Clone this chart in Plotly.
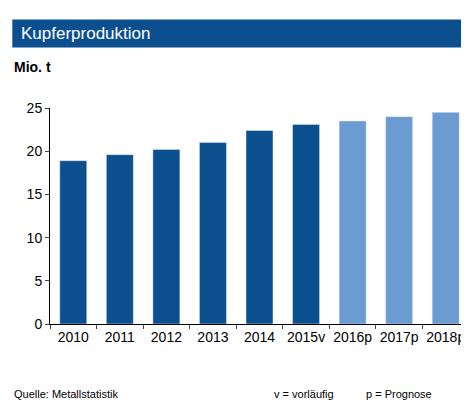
import plotly.graph_objects as go

# Kupferproduktion in Mio. t
years = ["2010", "2011", "2012", "2013", "2014", "2015v", "2016p", "2017p", "2018p"]
values = [18.9, 19.6, 20.2, 21.0, 22.4, 23.1, 23.5, 24.0, 24.5]
colors = ["#0b4f8f"] * 6 + ["#6a9bd1"] * 3

fig = go.Figure(go.Bar(x=years, y=values, marker_color=colors, width=0.58))

fig.update_layout(
    width=469, height=420,
    margin=dict(l=42, r=8, t=100, b=104),
    plot_bgcolor="white", paper_bgcolor="white",
    font=dict(family="Liberation Sans, Arial", size=14, color="black"),
    showlegend=False,
    shapes=[dict(type="rect", xref="paper", yref="paper",
                 x0=-0.09, x1=1.0, y0=1.28, y1=1.41,
                 fillcolor="#0b4f8f", line_width=0)],
    annotations=[
        dict(text="Kupferproduktion", xref="paper", yref="paper", x=-0.075, y=1.345,
             xanchor="left", yanchor="middle", showarrow=False,
             font=dict(size=17, color="white")),
        dict(text="<b>Mio. t</b>", xref="paper", yref="paper", x=-0.09, y=1.19,
             xanchor="left", yanchor="middle", showarrow=False, font=dict(size=14)),
        dict(text="Quelle: Metallstatistik", xref="paper", yref="paper", x=-0.09, y=-0.36,
             xanchor="left", showarrow=False, font=dict(size=11)),
        dict(text="v = vorläufig", xref="paper", yref="paper", x=0.53, y=-0.36,
             xanchor="left", showarrow=False, font=dict(size=11)),
        dict(text="p = Prognose", xref="paper", yref="paper", x=0.75, y=-0.36,
             xanchor="left", showarrow=False, font=dict(size=11)),
    ],
)
fig.update_yaxes(range=[0, 25], dtick=5, showgrid=False, showline=True,
                 linecolor="black", ticks="outside", ticklen=4, zeroline=False)
fig.update_xaxes(showline=True, linecolor="black", ticks="outside", ticklen=4,
                 tickson="boundaries", tickangle=0, automargin=False)

fig.write_html("out.html")
